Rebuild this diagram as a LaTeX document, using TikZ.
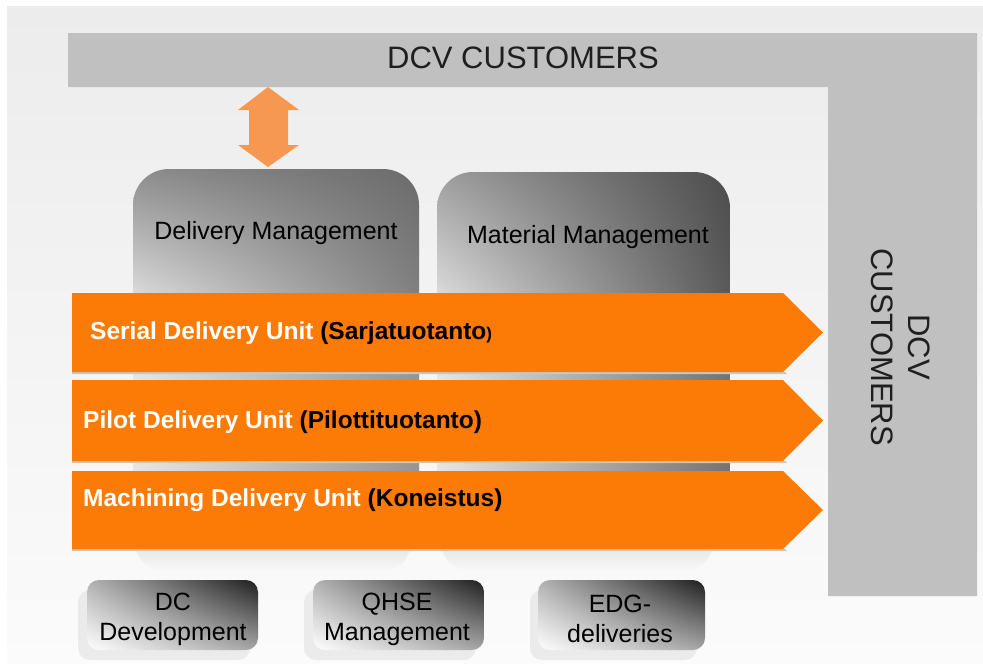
\documentclass[tikz,border=0pt]{standalone}
\usepackage{fontspec}
\setmainfont{Liberation Sans}
\usetikzlibrary{shadings}
\definecolor{barorange}{RGB}{252,122,6}
\definecolor{arroworange}{RGB}{247,152,82}
\definecolor{custgray}{RGB}{192,192,192}
\definecolor{bgtop}{RGB}{236,236,236}
\definecolor{bgbot}{RGB}{251,251,251}
\begin{document}
\begin{tikzpicture}[x=1pt,y=-1pt,
  lbl/.style={font=\fontsize{25}{30}\selectfont, text=black, inner sep=0pt, align=center},
  custlbl/.style={font=\fontsize{31}{37}\selectfont, text=black!88, inner sep=0pt, align=center},
  barlbl/.style={font=\fontsize{24.5}{28}\selectfont\bfseries, inner sep=0pt, anchor=west},
  orangebar/.style={fill=barorange},
  barshadow/.style={fill=black!22},
  reflect/.style={top color=black!14, bottom color=black!3, rounded corners=25pt},
  smallshadow/.style={fill=black!8, rounded corners=12pt},
  smallbox/.style={rounded corners=12pt, upper left=black!30, upper right=black!88, lower left=black!0, lower right=black!35}
]
\useasboundingbox (0,0) rectangle (983,664);
\fill[white] (0,0) rectangle (983,664);
\shade[top color=bgtop, bottom color=bgbot] (7,6) rectangle (983,664);

% customers L-shape
\fill[custgray] (68,33) -- (977,33) -- (977,596) -- (828,596) -- (828,87) -- (68,87) -- cycle;
\node[custlbl] (topcust) at (523,58) {DCV CUSTOMERS};
\node[custlbl, rotate=-90] (sidecust) at (901,347) {DCV\\CUSTOMERS};

% double arrow
\fill[arroworange] (268,87) -- (299,110) -- (288,110) -- (288,145) -- (299,145) -- (268,167)
  -- (238,145) -- (249,145) -- (249,110) -- (238,110) -- cycle;

% management boxes
\begin{scope}
  \clip[rounded corners=36pt] (133,169) rectangle (419,552);
  \shade[upper left=black!45, upper right=black!58, lower left=black!14, lower right=black!50]
    (133,169) rectangle (419,296);
  \shade[left color=black!10, right color=black!42] (133,296) rectangle (419,552);
\end{scope}
\begin{scope}
  \clip[rounded corners=36pt] (437,172) rectangle (730,552);
  \shade[upper left=black!38, upper right=black!70, lower left=black!14, lower right=black!65]
    (437,172) rectangle (730,296);
  \shade[left color=black!10, right color=black!55] (437,296) rectangle (730,552);
\end{scope}
\node[lbl] (dmlabel) at (276,233) {Delivery Management};
\node[lbl] (mmlabel) at (588,237) {Material Management};

% reflections below the bars
\shade[reflect] (136,530) rectangle (410,570);
\shade[reflect] (442,530) rectangle (712,570);

% orange delivery bars
\foreach \t/\b in {293/372, 380/461, 471/549}{
  \fill[barshadow] (72,\b) -- (785,\b) -- (787,\b+2) -- (72,\b+2) -- cycle;
  \fill[orangebar] (72,\t) -- (783,\t) -- (823,{(\t+\b)/2}) -- (783,\b) -- (72,\b) -- cycle;
}
\node[barlbl] (serial) at (90,333) {\textcolor{white}{Serial Delivery Unit} (Sarjatuotanto{\fontsize{17}{20}\selectfont)}};
\node[barlbl] (pilot) at (83,422) {\textcolor{white}{Pilot Delivery Unit} (Pilottituotanto)};
\node[barlbl] (machining) at (83,500) {\textcolor{white}{Machining Delivery Unit} (Koneistus)};

% bottom small boxes
\fill[smallshadow] (78,590) rectangle (250,660);
\shade[smallbox] (87,580) rectangle (258,650);
\node[lbl] (dcdev) at (173,619) {DC\\Development};

\fill[smallshadow] (304,590) rectangle (476,660);
\shade[smallbox] (313,580) rectangle (484,650);
\node[lbl] (qhse) at (397,619) {QHSE\\Management};

\fill[smallshadow] (530,590) rectangle (697,660);
\shade[smallbox] (538,580) rectangle (705,650);
\node[lbl] (edg) at (620,619) {EDG-\\deliveries};
\end{tikzpicture}
\end{document}
